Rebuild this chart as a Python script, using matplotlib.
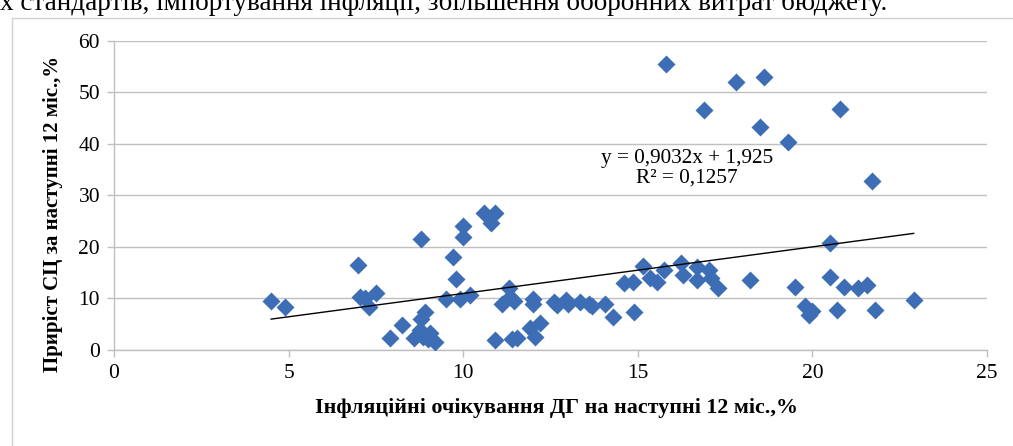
import matplotlib
matplotlib.use("Agg")
import matplotlib.pyplot as plt
import numpy as np
from matplotlib.patches import Rectangle

plt.rcParams['font.family'] = ['Liberation Serif', 'DejaVu Serif']

# Inflation expectations of households (x) vs CPI growth next 12 months (y)
x_vals = [4.5, 4.9, 7.0, 7.05, 7.2, 7.3, 7.5, 7.9, 8.25, 8.6, 8.75, 8.8, 8.8, 8.9,
          8.85, 9.0, 9.05, 9.2, 9.5, 9.7, 9.8, 9.9, 10.0, 10.0, 10.2, 10.6, 10.9,
          10.8, 10.9, 11.1, 11.3, 11.35, 11.45, 11.4, 11.55, 11.9, 12.0, 12.0,
          12.05, 12.2, 12.6, 12.7, 12.95, 13.0, 13.35, 13.6, 13.7, 14.05, 14.3,
          14.6, 14.87, 14.9, 15.15, 15.35, 15.55, 15.75, 15.8, 16.25, 16.3, 16.7,
          16.7, 16.9, 17.05, 17.1, 17.3, 17.8, 18.2, 18.5, 18.6, 19.3, 19.5, 19.8,
          19.9, 20.0, 20.5, 20.5, 20.7, 20.8, 20.9, 21.3, 21.55, 21.7, 21.8, 22.9]
y_vals = [9.5, 8.3, 16.4, 10.3, 10.0, 8.3, 11.0, 2.3, 4.9, 2.3, 3.8, 21.5, 6.0, 7.4,
          2.6, 2.2, 3.2, 1.6, 9.8, 18.0, 13.7, 9.8, 24.0, 22.0, 10.7, 26.6, 26.5,
          24.6, 1.9, 8.9, 12.0, 10.2, 9.5, 2.1, 2.3, 4.2, 9.0, 9.8,
          2.6, 5.2, 9.4, 8.7, 9.7, 9.0, 9.4, 9.0, 8.5, 9.0, 6.4,
          12.9, 13.2, 7.4, 16.3, 13.9, 13.2, 15.5, 55.4, 16.8, 14.5, 16.1,
          13.6, 46.5, 15.5, 13.9, 12.0, 52.0, 13.6, 43.3, 53.0, 40.3, 12.3, 8.6,
          6.8, 7.6, 20.8, 14.1, 7.8, 46.7, 12.3, 12.1, 12.6, 32.7, 7.8, 9.7]

trend_slope = 0.9032
trend_intercept = 1.925
r_squared_text = "R² = 0,1257"
equation_text = "y = 0,9032x + 1,925"

x_ticks = [0, 5, 10, 15, 20, 25]
y_ticks = [0, 10, 20, 30, 40, 50, 60]
x_label = "Інфляційні очікування ДГ на наступні 12 міс.,%"
y_label = "Приріст СЦ за наступні 12 міс.,%"
top_text = "х стандартів, імпортування інфляції, збільшення оборонних витрат бюджету."

W, H = 1013, 446
fig = plt.figure(figsize=(W / 100, H / 100), dpi=100)

# document text cut off at the top edge, as in the reference
fig.text(0 / W, 1 - 10 / H, top_text, fontsize=19.5, ha='left', va='baseline', color='black')

# chart border
fig.patches.append(Rectangle((12 / W, -0.05), 1.2, 1 - 18 / H + 0.05,
                             transform=fig.transFigure, fill=False,
                             edgecolor='#D0D0D0', linewidth=1.0))

ax = fig.add_axes([114 / W, 1 - 350 / H, (987 - 114) / W, (350 - 40.5) / H])
ax.set_xlim(0, 25)
ax.set_ylim(0, 60)

ax.yaxis.grid(True, color='#BFBFBF', linewidth=1.0)
ax.set_axisbelow(True)
for s in ['top', 'right']:
    ax.spines[s].set_visible(False)
for s in ['left', 'bottom']:
    ax.spines[s].set_color('#BFBFBF')
    ax.spines[s].set_linewidth(1.0)

ax.scatter(x_vals, y_vals, marker='D', s=84, color='#3D6DB5', linewidths=0, zorder=3)

xl = np.array([min(x_vals), max(x_vals)])
ax.plot(xl, trend_slope * xl + trend_intercept, color='black', linewidth=1.0, zorder=4)

ax.text(16.4, 35.2, equation_text + "\n" + r_squared_text, ha='center', va='center',
        fontsize=15.3, linespacing=1.08, zorder=5)

ax.set_xticks(x_ticks)
ax.set_yticks(y_ticks)
ax.tick_params(axis='both', direction='out', length=5, color='#BFBFBF', width=1.0,
               labelsize=15.5, pad=5)

fig.text(556 / W, 1 - 408 / H, x_label, ha='center', va='center', fontsize=15.8,
         fontweight='bold')
fig.text(53 / W, 1 - 214 / H, y_label, ha='center', va='center', fontsize=15,
         fontweight='bold', rotation=90)

fig.savefig("out.png", dpi=100)
